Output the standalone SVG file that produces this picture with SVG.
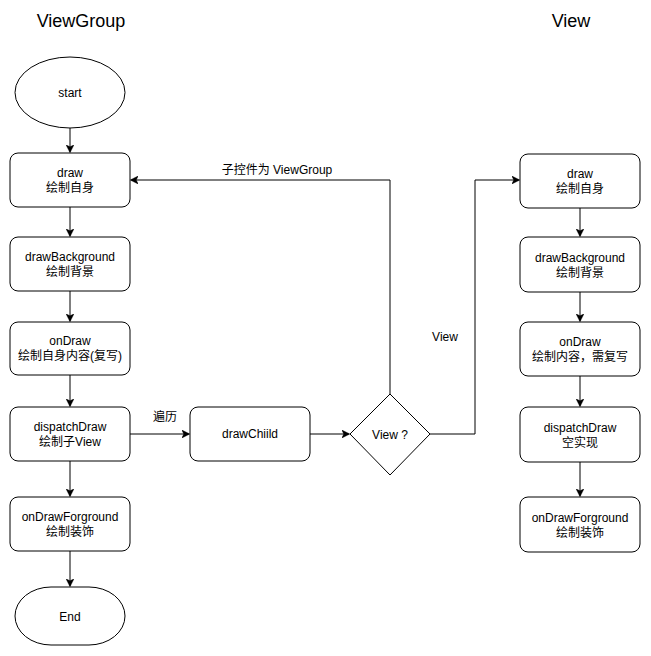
<svg xmlns="http://www.w3.org/2000/svg" width="651" height="656" viewBox="0 0 651 656">
<style>
.box{fill:#fff;stroke:#000;stroke-width:1}
.t{font-family:"Liberation Sans","Noto Sans CJK SC",sans-serif;font-size:12px;fill:#000;text-anchor:middle}
.title{font-family:"Liberation Sans","Noto Sans CJK SC",sans-serif;font-size:18px;fill:#000;text-anchor:middle}
.ln{fill:none;stroke:#000;stroke-width:1}
</style>
<defs>
<marker id="arr" viewBox="0 0 10 10" refX="9" refY="5" markerWidth="8" markerHeight="8" markerUnits="userSpaceOnUse" orient="auto">
<path d="M0,0 L10,5 L0,10 L2.5,5 Z" fill="#000" stroke="#000" stroke-width="0.5"/>
</marker>
</defs>
<rect width="651" height="656" fill="#fff"/>
<text class="title" x="81" y="27">ViewGroup</text>
<text class="title" x="571" y="27">View</text>

<g id="connectors">
<path class="ln" d="M70,128 V152" marker-end="url(#arr)"/>
<path class="ln" d="M70,207 V236" marker-end="url(#arr)"/>
<path class="ln" d="M70,291 V321" marker-end="url(#arr)"/>
<path class="ln" d="M70,375 V406" marker-end="url(#arr)"/>
<path class="ln" d="M70,461 V496" marker-end="url(#arr)"/>
<path class="ln" d="M70,551 V586" marker-end="url(#arr)"/>
<path class="ln" d="M130,434 H189" marker-end="url(#arr)"/>
<path class="ln" d="M310,434 H349" marker-end="url(#arr)"/>
<path class="ln" d="M390,394 V180 H131" marker-end="url(#arr)"/>
<path class="ln" d="M430,434 H475 V180 H519" marker-end="url(#arr)"/>
<path class="ln" d="M580,208 V236" marker-end="url(#arr)"/>
<path class="ln" d="M580,292 V321" marker-end="url(#arr)"/>
<path class="ln" d="M580,376 V406" marker-end="url(#arr)"/>
<path class="ln" d="M580,462 V496" marker-end="url(#arr)"/>
<text class="t" x="165" y="421">遍历</text>
<text class="t" x="277" y="174">子控件为 ViewGroup</text>
<text class="t" x="445" y="341">View</text>
</g>

<g id="start"><ellipse class="box" cx="70" cy="92.5" rx="55" ry="35.5"/><text class="t" x="70" y="97">start</text></g>
<g id="vg-draw"><rect class="box" x="10" y="153" width="120" height="54" rx="8"/><text class="t" x="70" y="177">draw</text><text class="t" x="70" y="192">绘制自身</text></g>
<g id="vg-drawBackground"><rect class="box" x="10" y="237" width="120" height="54" rx="8"/><text class="t" x="70" y="261">drawBackground</text><text class="t" x="70" y="276">绘制背景</text></g>
<g id="vg-onDraw"><rect class="box" x="10" y="322" width="120" height="53" rx="8"/><text class="t" x="70" y="345">onDraw</text><text class="t" x="70" y="360">绘制自身内容(复写)</text></g>
<g id="vg-dispatchDraw"><rect class="box" x="10" y="407" width="120" height="54" rx="8"/><text class="t" x="70" y="431">dispatchDraw</text><text class="t" x="70" y="446">绘制子View</text></g>
<g id="vg-onDrawForground"><rect class="box" x="10" y="497" width="120" height="54" rx="8"/><text class="t" x="70" y="521">onDrawForground</text><text class="t" x="70" y="536">绘制装饰</text></g>
<g id="end"><rect class="box" x="15" y="587" width="110" height="58" rx="36" ry="29"/><text class="t" x="70" y="621">End</text></g>

<g id="drawChild"><rect class="box" x="190" y="407" width="120" height="54" rx="8"/><text class="t" x="250" y="438">drawChiild</text></g>
<g id="decision"><path class="box" d="M390,394 L430,434 L390,475 L350,434 Z"/><text class="t" x="390" y="439">View ?</text></g>

<g id="v-draw"><rect class="box" x="520" y="154" width="120" height="54" rx="8"/><text class="t" x="580" y="178">draw</text><text class="t" x="580" y="193">绘制自身</text></g>
<g id="v-drawBackground"><rect class="box" x="520" y="237" width="120" height="55" rx="8"/><text class="t" x="580" y="262">drawBackground</text><text class="t" x="580" y="277">绘制背景</text></g>
<g id="v-onDraw"><rect class="box" x="520" y="322" width="120" height="54" rx="8"/><text class="t" x="580" y="346">onDraw</text><text class="t" x="580" y="361">绘制内容，需复写</text></g>
<g id="v-dispatchDraw"><rect class="box" x="520" y="407" width="120" height="55" rx="8"/><text class="t" x="580" y="432">dispatchDraw</text><text class="t" x="580" y="447">空实现</text></g>
<g id="v-onDrawForground"><rect class="box" x="520" y="497" width="120" height="55" rx="8"/><text class="t" x="580" y="522">onDrawForground</text><text class="t" x="580" y="537">绘制装饰</text></g>
</svg>
